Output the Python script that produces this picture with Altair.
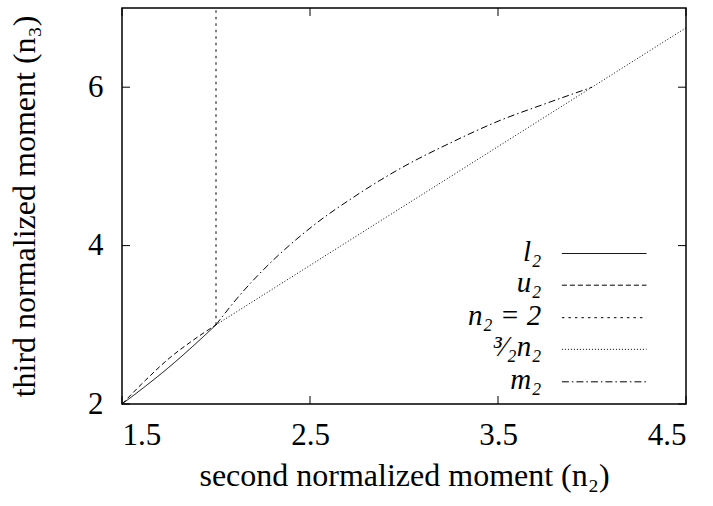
import altair as alt
import pandas as pd

# ---- data ----
l2_x = [1.5, 1.625, 1.75, 1.875, 2.0]
l2_y = [2.0, 2.225, 2.465, 2.725, 3.0]
u2_x = [1.5, 1.625, 1.75, 1.875, 2.0]
u2_y = [2.0, 2.30, 2.575, 2.80, 3.0]
n2eq2_x = [2.0, 2.0]
n2eq2_y = [3.0, 7.0]
half_x = [2.0, 4.5]
half_y = [3.0, 6.75]
m2_x = [2.0, 2.125, 2.25, 2.5, 2.75, 3.0, 3.25, 3.5, 3.75, 4.0]
m2_y = [3.0, 3.37, 3.69, 4.22, 4.64, 5.0, 5.30, 5.57, 5.79, 6.0]

series_keys = ["l2", "u2", "n2eq2", "half", "m2"]
series_labels = ["l₂", "u₂", "n₂ = 2", "³⁄₂n₂", "m₂"]
series_dash = [[1, 0], [5, 3], [2.5, 4], [1, 2], [7, 3, 1.5, 3]]

x_ticks = [1.5, 2.5, 3.5, 4.5]
y_ticks = [2, 4, 6]

# legend rows (data space)
legend_y = [3.90, 3.50, 3.09, 2.69, 2.28]
legend_label_x = 3.73
legend_sample_x1 = 3.84
legend_sample_x2 = 4.29

W, H = 564, 396
FONT = "Liberation Serif"

rows = []
for key, xs, ys in [("l2", l2_x, l2_y), ("u2", u2_x, u2_y), ("n2eq2", n2eq2_x, n2eq2_y),
                    ("half", half_x, half_y), ("m2", m2_x, m2_y)]:
    for i, (a, b) in enumerate(zip(xs, ys)):
        rows.append({"series": key, "i": i, "x": a, "y": b})
df = pd.DataFrame(rows)

leg = pd.DataFrame({
    "series": series_keys,
    "label": series_labels,
    "ly": legend_y,
    "lx": [legend_label_x] * 5,
    "sx1": [legend_sample_x1] * 5,
    "sx2": [legend_sample_x2] * 5,
})

xscale = alt.Scale(domain=[1.5, 4.5], nice=False, zero=False)
yscale = alt.Scale(domain=[2, 7], nice=False, zero=False)
dash_scale = alt.Scale(domain=series_keys, range=series_dash)

lines = alt.Chart(df).mark_line(color="black", strokeWidth=1, interpolate="monotone").encode(
    x=alt.X("x:Q", scale=xscale,
            axis=alt.Axis(values=x_ticks, format=".1f", title="second normalized moment (n₂)",
                          titlePadding=10, labelPadding=16)),
    y=alt.Y("y:Q", scale=yscale,
            axis=alt.Axis(values=y_ticks, format="d", title="third normalized moment (n₃)",
                          titlePadding=46, labelPadding=19)),
    strokeDash=alt.StrokeDash("series:N", scale=dash_scale, legend=None),
    detail="series:N",
    order="i:Q",
)

xt = pd.DataFrame({"t": x_ticks})
yt = pd.DataFrame({"t": y_ticks})
tick_b = alt.Chart(xt).mark_rule(color="black", strokeWidth=1).encode(
    x=alt.X("t:Q", scale=xscale), y=alt.value(H), y2=alt.value(H - 8))
tick_t = alt.Chart(xt).mark_rule(color="black", strokeWidth=1).encode(
    x=alt.X("t:Q", scale=xscale), y=alt.value(0), y2=alt.value(8))
tick_l = alt.Chart(yt).mark_rule(color="black", strokeWidth=1).encode(
    y=alt.Y("t:Q", scale=yscale), x=alt.value(0), x2=alt.value(8))
tick_r = alt.Chart(yt).mark_rule(color="black", strokeWidth=1).encode(
    y=alt.Y("t:Q", scale=yscale), x=alt.value(W), x2=alt.value(W - 8))

leg_text = alt.Chart(leg).mark_text(align="right", baseline="alphabetic", dy=7, font=FONT,
                                    fontSize=29, fontStyle="italic", color="black").encode(
    x=alt.X("lx:Q", scale=xscale), y=alt.Y("ly:Q", scale=yscale), text="label:N")
leg_line = alt.Chart(leg).mark_rule(color="black", strokeWidth=1).encode(
    x=alt.X("sx1:Q", scale=xscale), x2="sx2:Q", y=alt.Y("ly:Q", scale=yscale),
    strokeDash=alt.StrokeDash("series:N", scale=dash_scale, legend=None))

chart = alt.layer(lines, tick_b, tick_t, tick_l, tick_r, leg_line, leg_text).properties(
    width=W, height=H,
    autosize=alt.AutoSizeParams(type="none"),
    padding={"left": 122, "top": 8, "right": 27, "bottom": 102},
    background="white",
).configure_view(stroke="black", strokeWidth=1.5).configure_axis(
    grid=False, domain=False, ticks=False,
    labelFont=FONT, labelFontSize=31, labelColor="black",
    titleFont=FONT, titleFontSize=32, titleFontWeight="normal", titleColor="black",
)

chart.save("out.html", embed_options={"renderer": "svg", "actions": False})
